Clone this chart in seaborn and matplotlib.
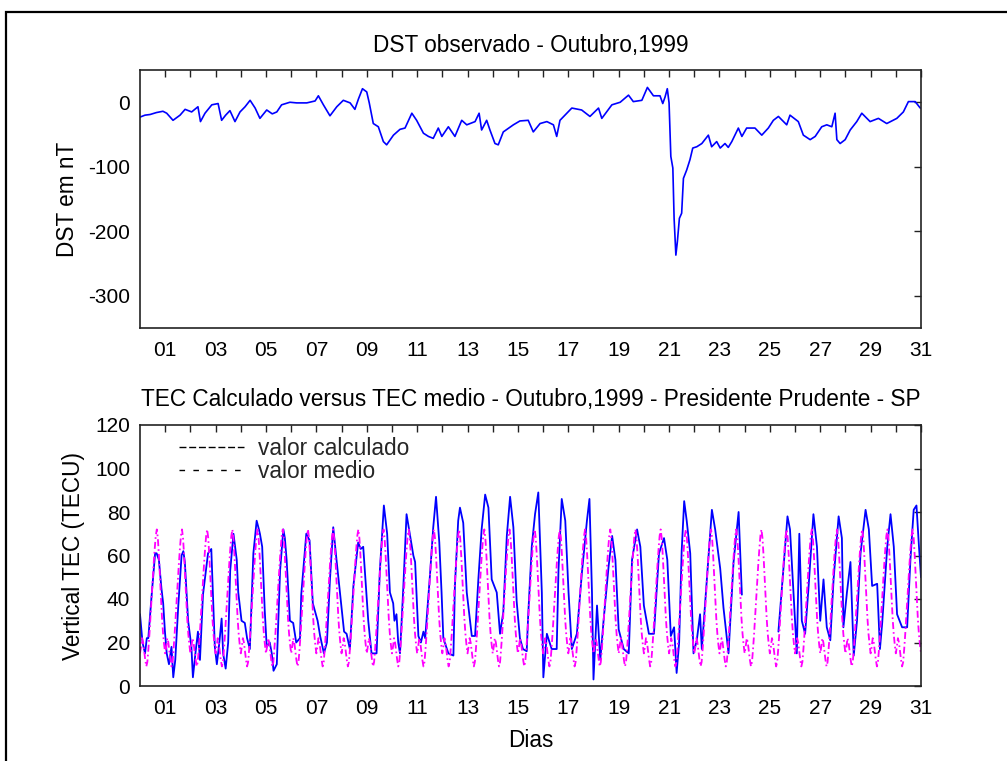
import numpy as np
import pandas as pd
import matplotlib
matplotlib.use("Agg")
import matplotlib.pyplot as plt
import seaborn as sns
from matplotlib.lines import Line2D
from matplotlib.patches import Rectangle

# ---------------- data ----------------
# DST observado, outubro 1999 (dia, nT)
dst_dia = [0.0, 0.2, 0.4, 0.65, 0.91, 1.06, 1.31, 1.45, 1.59, 1.79, 2.05, 2.3, 2.4, 2.58,
           2.85, 3.1, 3.24, 3.4, 3.57, 3.77, 3.97, 4.17, 4.37, 4.57, 4.76, 5.03, 5.25, 5.43,
           5.62, 5.95, 6.22, 6.62, 6.95, 7.08, 7.28, 7.54, 7.81, 8.07, 8.34, 8.53, 8.67, 8.83,
           9.0, 9.1, 9.26, 9.46, 9.66, 9.79, 10.06, 10.32, 10.52, 10.79, 10.98, 11.25, 11.45,
           11.64, 11.84, 11.98, 12.24, 12.5, 12.77, 12.97, 13.3, 13.46, 13.56, 13.76, 13.89,
           14.09, 14.22, 14.42, 14.82, 15.08, 15.41, 15.61, 15.88, 16.15, 16.41, 16.54, 16.67,
           17.14, 17.53, 17.86, 18.2, 18.33, 18.73, 19.06, 19.39, 19.58, 19.92, 20.14, 20.38,
           20.64, 20.75, 20.84, 20.93, 21.0, 21.07, 21.15, 21.2, 21.27, 21.33, 21.41, 21.5,
           21.57, 21.7, 21.83, 21.94, 22.1, 22.3, 22.56, 22.69, 22.89, 23.03, 23.22, 23.35,
           23.49, 23.75, 23.89, 24.08, 24.41, 24.68, 24.94, 25.14, 25.34, 25.67, 25.8, 26.13,
           26.33, 26.6, 26.8, 27.06, 27.26, 27.46, 27.59, 27.66, 27.79, 27.99, 28.19, 28.45,
           28.65, 28.98, 29.31, 29.64, 30.04, 30.3, 30.5, 30.77, 30.97]
dst_nt = [-23, -20, -19, -16, -14, -17, -28, -24, -20, -11, -15, -7, -30, -17,
          -4, -2, -28, -20, -13, -30, -15, -7, 3, -9, -25, -12, -18, -15,
          -4, 0, -1, -1, 2, 10, -4, -21, -7, 3, -1, -11, 5, 21,
          16, -1, -33, -38, -61, -66, -51, -42, -40, -17, -28, -48, -53,
          -56, -40, -53, -38, -53, -28, -35, -30, -17, -43, -28, -43,
          -64, -66, -46, -35, -29, -28, -46, -33, -30, -35, -53, -28,
          -9, -12, -22, -9, -25, -4, 0, 11, 1, 3, 23, 10,
          10, -2, 8, 21, -1, -84, -102, -180, -237, -216, -180, -172,
          -118, -105, -89, -71, -69, -64, -51, -69, -61, -71, -64, -70,
          -61, -40, -53, -40, -40, -51, -40, -28, -22, -35, -20, -30,
          -51, -58, -53, -38, -35, -38, -17, -58, -64, -58, -43, -30,
          -17, -30, -25, -33, -25, -15, 1, 1, -9]

# TEC calculado (dia, TECU); sem dados entre ~23.9 e ~25.3
tec_dia = [0.0, 0.1, 0.2, 0.27, 0.33, 0.45, 0.6, 0.66, 0.75, 0.85, 0.92, 0.99, 1.06, 1.15,
           1.25, 1.32, 1.4, 1.52, 1.65, 1.72, 1.78, 1.91, 2.04, 2.1, 2.2, 2.3, 2.38, 2.5,
           2.7, 2.83, 2.9, 2.97, 3.05, 3.15, 3.24, 3.3, 3.4, 3.5, 3.58, 3.71, 3.84, 3.9,
           4.03, 4.16, 4.25, 4.36, 4.42, 4.5, 4.63, 4.72, 4.76, 4.85, 4.95, 5.03, 5.15, 5.23,
           5.3, 5.43, 5.56, 5.69, 5.75, 5.82, 5.95, 6.08, 6.2, 6.35, 6.4, 6.6, 6.73, 6.86,
           7.05, 7.15, 7.3, 7.42, 7.54, 7.67, 7.8, 8.0, 8.1, 8.2, 8.33, 8.47, 8.66, 8.76,
           8.86, 9.06, 9.19, 9.39, 9.52, 9.68, 9.81, 9.92, 10.05, 10.1, 10.18, 10.25, 10.32,
           10.45, 10.58, 10.72, 10.85, 10.92, 11.05, 11.15, 11.25, 11.32, 11.51, 11.64, 11.75,
           11.88, 11.97, 12.04, 12.24, 12.44, 12.5, 12.63, 12.7, 12.83, 12.97, 13.17, 13.3,
           13.43, 13.56, 13.7, 13.83, 13.96, 14.16, 14.29, 14.42, 14.56, 14.69, 14.82, 14.95,
           15.08, 15.2, 15.35, 15.41, 15.55, 15.68, 15.81, 15.95, 16.01, 16.15, 16.34, 16.54,
           16.61, 16.74, 16.88, 17.01, 17.14, 17.34, 17.54, 17.74, 17.84, 17.94, 18.0, 18.14,
           18.27, 18.4, 18.6, 18.74, 18.87, 19.0, 19.2, 19.4, 19.53, 19.73, 19.86, 20.0,
           20.2, 20.4, 20.6, 20.8, 20.93, 21.07, 21.2, 21.3, 21.4, 21.5, 21.6, 21.7, 21.84,
           21.97, 22.1, 22.23, 22.3, 22.5, 22.7, 22.83, 23.03, 23.16, 23.36, 23.56, 23.76,
           23.89,
           25.34, 25.54, 25.7, 25.8, 26.0, 26.07, 26.17, 26.27, 26.4, 26.54, 26.73, 26.87,
           27.0, 27.13, 27.26, 27.4, 27.53, 27.73, 27.86, 27.92, 28.06, 28.2, 28.33, 28.46,
           28.6, 28.8, 28.93, 29.06, 29.26, 29.37, 29.46, 29.66, 29.79, 29.92, 30.05, 30.25,
           30.45, 30.58, 30.71, 30.82, 30.92, 31.0]
tec_calc = [33, 20, 15, 22, 22, 40, 61, 61, 58, 45, 38, 25, 15, 10,
            18, 4, 12, 37, 60, 62, 57, 30, 18, 4, 15, 25, 12, 42,
            61, 63, 40, 18, 10, 20, 31, 15, 8, 20, 53, 70, 58, 43,
            30, 29, 22, 17, 36, 61, 76, 72, 70, 64, 35, 18, 20, 15,
            7, 10, 53, 72, 68, 58, 30, 29, 20, 22, 42, 70, 67, 38,
            30, 23, 15, 20, 49, 73, 58, 36, 25, 24, 17, 46, 66, 63,
            64, 30, 15, 15, 53, 83, 70, 43, 38, 30, 33, 20, 15,
            45, 79, 69, 60, 57, 23, 20, 25, 22, 51, 73, 87,
            66, 43, 22, 15, 14, 46, 76, 82, 75, 43, 23, 23,
            49, 72, 88, 82, 49, 43, 24, 34, 69, 87, 73, 39,
            22, 17, 16, 33, 64, 79, 89, 43, 4, 24, 17, 17,
            53, 86, 76, 43, 17, 24, 52, 76, 86, 43, 3, 37,
            12, 30, 55, 69, 58, 26, 17, 15, 58, 72, 64, 37,
            24, 24, 61, 68, 58, 23, 27, 6, 20, 62, 85, 76, 61,
            15, 21, 33, 17, 49, 81, 72, 54, 36, 15, 57, 80,
            42,
            25, 54, 78, 72, 30, 15, 70, 30, 24, 46, 79, 64,
            30, 49, 27, 21, 49, 78, 68, 27, 43, 57, 14, 30,
            61, 81, 72, 46, 47, 17, 29, 64, 79, 64, 33, 27,
            27, 58, 81, 83, 64, 50]
inicio_lacuna = 24.5  # data gap in the calculated TEC

# TEC medio: perfil diario horario (0h..23h), o mesmo todos os dias
tec_medio_hora = [15, 18, 22, 20, 16, 12, 9, 11, 17, 24, 32, 40,
                  48, 56, 63, 69, 72, 68, 60, 50, 40, 31, 24, 19]
n_dias = 31

dias_ticks = list(range(1, 32))
dias_rotulos = [f"{d:02d}" if d % 2 == 1 else "" for d in dias_ticks]
dst_ticks = [-300, -200, -100, 0]
tec_ticks = [0, 20, 40, 60, 80, 100, 120]

# ---------------- style ----------------
sns.set_theme(style="white")
plt.rcParams["font.family"] = ["Liberation Sans", "DejaVu Sans"]
plt.rcParams["lines.scale_dashes"] = False

FS = 16.3
TS = 15

fig = plt.figure(figsize=(10.07, 7.61), dpi=100)
fig.patch.set_facecolor("white")
ax1 = fig.add_axes([140 / 1007, 1 - 328 / 761, 781 / 1007, 258 / 761])
ax2 = fig.add_axes([140 / 1007, 1 - 686 / 761, 781 / 1007, 261 / 761])

# top: DST
df_dst = pd.DataFrame({"dia": dst_dia, "dst": dst_nt})
sns.lineplot(data=df_dst, x="dia", y="dst", ax=ax1, color="#0000ff", lw=1.2,
             estimator=None, sort=False)

# bottom: TEC
df_tec = pd.DataFrame({"dia": tec_dia, "tec": tec_calc})
df_tec["trecho"] = (df_tec["dia"] > inicio_lacuna).astype(int)
sns.lineplot(data=df_tec, x="dia", y="tec", units="trecho", ax=ax2, color="#0000ff",
             lw=1.3, estimator=None, sort=False, legend=False)
horas = np.arange(n_dias * 24 + 1)
df_med = pd.DataFrame({"dia": horas / 24.0,
                       "tec": [tec_medio_hora[h % 24] for h in horas]})
sns.lineplot(data=df_med, x="dia", y="tec", ax=ax2, color="#ff00ff", lw=1.3,
             estimator=None, sort=False, linestyle=(0, (5, 2.2, 1.2, 2.2)))

for ax, yt, ylim in [(ax1, dst_ticks, (-350, 50)), (ax2, tec_ticks, (0, 120))]:
    ax.set_xlim(0, 31)
    ax.set_ylim(*ylim)
    ax.set_xticks(dias_ticks)
    ax.set_xticklabels(dias_rotulos)
    ax.set_yticks(yt)
    ax.set_yticklabels([str(v) for v in yt])
    ax.tick_params(axis="both", direction="in", length=5, width=1.0, color="#222222",
                   top=True, right=True, labelsize=TS, labelcolor="black")
    ax.tick_params(axis="x", pad=9)
    ax.tick_params(axis="y", pad=7)
    for s in ax.spines.values():
        s.set_color("#222222")
        s.set_linewidth(1.2)
        s.set_visible(True)
    ax.set_facecolor("white")
    ax.grid(False)

ax1.set_title("DST observado - Outubro,1999", fontsize=FS, pad=13, color="black")
ax2.set_title("TEC Calculado versus TEC medio - Outubro,1999 - Presidente Prudente - SP",
              fontsize=FS, pad=14, color="black")
ax1.set_xlabel("")
ax1.set_ylabel("DST em nT", fontsize=FS, color="black")
ax1.yaxis.set_label_coords(-0.078, 0.5)
ax2.set_xlabel("Dias", fontsize=FS, color="black", labelpad=8)
ax2.set_ylabel("Vertical TEC (TECU)", fontsize=FS, color="black")
ax2.yaxis.set_label_coords(-0.070, 0.5)

handles = [Line2D([], [], color="black", lw=1.0, linestyle=(0, (5, 2))),
           Line2D([], [], color="black", lw=1.0, linestyle=(0, (4, 6)))]
ax2.legend(handles, ["valor calculado", "valor medio"], loc="upper left",
           bbox_to_anchor=(0.05, 0.955), frameon=False, fontsize=FS,
           handlelength=2.85, handletextpad=0.65, labelspacing=0.0, borderpad=0,
           borderaxespad=0)

# outer frame of the figure
fig.add_artist(Rectangle((6 / 1007, -0.05), 1.2, 1.05 - 11.5 / 761,
                         transform=fig.transFigure, fill=False, lw=1.6,
                         edgecolor="black", clip_on=False))

fig.savefig("out.png", dpi=100, facecolor="white")
